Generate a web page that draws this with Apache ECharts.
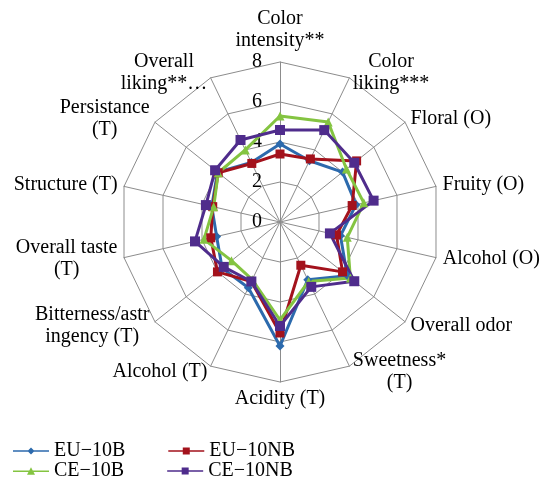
<!DOCTYPE html>
<html>
<head>
<meta charset="utf-8">
<script src="https://cdn.jsdelivr.net/npm/echarts@6/dist/echarts.min.js"></script>
<style>
  html, body { margin: 0; padding: 0; background: #fff; }
  #chart { width: 546px; height: 486px; }
</style>
</head>
<body>
<div id="chart"></div>
<script>
// attributes, clockwise from the top
const attributes = [
  "Color\nintensity**", "Color\nliking***", "Floral (O)", "Fruity (O)",
  "Alcohol (O)", "Overall odor", "Sweetness*\n(T)", "Acidity (T)",
  "Alcohol (T)", "Bitterness/astr\ningency (T)", "Overall taste\n(T)",
  "Structure (T)", "Persistance\n(T)", "Overall\nliking**…"
];
const scaleMax = 8;
const tickStep = 2;

const eu10B  = [3.9, 3.4, 4.0, 3.9, 3.1, 4.3, 3.2, 6.2, 3.65, 3.7, 3.25, 3.5, 4.0, 3.3];
const eu10NB = [3.4, 3.5, 4.9, 3.7, 2.9, 4.0, 2.4, 5.55, 3.3, 4.0, 3.55, 3.45, 3.95, 3.25];
const ce10B  = [5.3, 5.55, 4.25, 4.3, 3.45, 4.5, 3.3, 4.9, 3.2, 3.1, 3.9, 3.4, 3.95, 4.0];
const ce10NB = [4.6, 5.1, 4.75, 4.8, 2.56, 4.75, 3.6, 5.2, 3.3, 3.6, 4.36, 3.8, 4.15, 4.55];

const serif = "'Liberation Serif', 'Times New Roman', serif";
const nameSize = 20;

// echarts walks the indicators counter-clockwise, so keep the first and flip the rest
const order = (arr) => [arr[0]].concat(arr.slice(1).reverse());

// multi-line names are centred line by line, like the original
const ctx = document.createElement("canvas").getContext("2d");
ctx.font = nameSize + "px " + serif;
const nameRich = {};
const nameKey = {};
attributes.forEach((name, i) => {
  const w = Math.max(...name.split("\n").map((l) => ctx.measureText(l).width));
  nameRich["n" + i] = {
    width: Math.ceil(w) + 1, align: "center",
    fontFamily: serif, fontSize: nameSize, lineHeight: 22, color: "#000"
  };
  nameKey[name] = "n" + i;
});

const indicators = order(attributes).map((name, i) => {
  const ind = { name: name, min: 0, max: scaleMax };
  if (i === 0) ind.axisLabel = { show: true };
  return ind;
});

const chart = echarts.init(document.getElementById("chart"));

const linePath = (mark) => "path://M0,4.3H36V5.7H0Z" + mark;
const squareMark = "M14.5,1.5H21.5V8.5H14.5Z";
const diamondMark = "M18,1.5L21.5,5L18,8.5L14.5,5Z";
const triangleMark = "M18,1L22,8.5H14Z";

function radarSeries(name, values, color, symbol, size) {
  return {
    type: "radar",
    name: name,
    symbol: symbol,
    symbolSize: size,
    lineStyle: { color: color, width: 3 },
    itemStyle: { color: color },
    data: [{ name: name, value: order(values) }]
  };
}

const legendText = { fontFamily: serif, fontSize: 20, color: "#000" };

chart.setOption({
  animation: false,
  backgroundColor: "#fff",
  legend: [
    {
      left: 8, top: 436, itemWidth: 36, itemHeight: 10, itemGap: 43,
      textStyle: legendText,
      data: [
        { name: "EU−10B", icon: linePath(diamondMark) },
        { name: "EU−10NB", icon: linePath(squareMark) }
      ]
    },
    {
      left: 8, top: 456, itemWidth: 36, itemHeight: 10, itemGap: 43,
      textStyle: legendText,
      data: [
        { name: "CE−10B", icon: linePath(triangleMark) },
        { name: "CE−10NB", icon: linePath(squareMark) }
      ]
    }
  ],
  radar: {
    center: [280, 222],
    radius: 160,
    startAngle: 90,
    shape: "polygon",
    splitNumber: scaleMax / tickStep,
    nameGap: 6,
    axisName: {
      color: "#000",
      fontFamily: serif,
      fontSize: nameSize,
      lineHeight: 22,
      formatter: (name) => name.split("\n").map((l) => "{" + nameKey[name] + "|" + l + "}").join("\n"),
      rich: nameRich
    },
    axisLine: { lineStyle: { color: "#8c8c8c", width: 1 } },
    splitLine: { lineStyle: { color: "#8c8c8c", width: 1 } },
    splitArea: { show: false },
    axisLabel: {
      show: false,
      color: "#000",
      fontFamily: serif,
      fontSize: 20,
      margin: 18
    },
    indicator: indicators
  },
  series: [
    radarSeries("EU−10B", eu10B, "#2c6aad", "diamond", 9),
    radarSeries("EU−10NB", eu10NB, "#a3121c", "rect", 9),
    radarSeries("CE−10B", ce10B, "#84c441", "triangle", 9),
    radarSeries("CE−10NB", ce10NB, "#4f2c8c", "rect", 10)
  ]
});
</script>
</body>
</html>
